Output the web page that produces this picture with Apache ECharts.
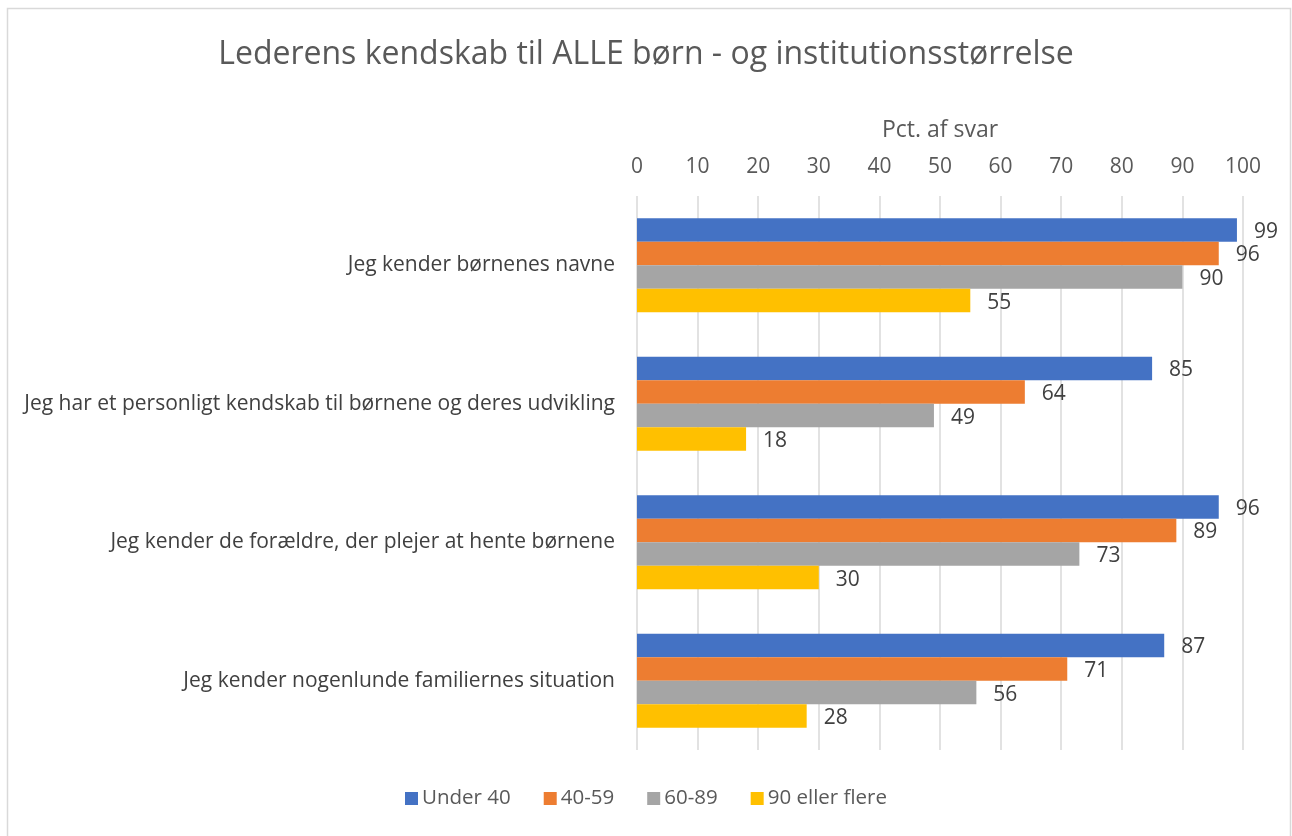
<!DOCTYPE html>
<html>
<head>
<meta charset="utf-8">
<script src="https://cdn.jsdelivr.net/npm/echarts@6/dist/echarts.min.js"></script>
<style>
  html, body { margin: 0; padding: 0; background: #fff; }
  #chart { width: 1292px; height: 836px; }
</style>
</head>
<body>
<div id="chart"></div>
<script>
// kategorier (oppefra og ned)
const categories = [
  'Jeg kender børnenes navne',
  'Jeg har et personligt kendskab til børnene og deres udvikling',
  'Jeg kender de forældre, der plejer at hente børnene',
  'Jeg kender nogenlunde familiernes situation'
]
const seriesNames = ['Under 40', '40-59', '60-89', '90 eller flere']
const under40 = [99, 85, 96, 87]
const s40to59 = [96, 64, 89, 71]
const s60to89 = [90, 49, 73, 56]
const s90plus = [55, 18, 30, 28]
const colors = ['#4472C4', '#ED7D31', '#A5A5A5', '#FFC000']

const font = 'Open Sans'
const chart = echarts.init(document.getElementById('chart'))

const values = [under40, s40to59, s60to89, s90plus]

const option = {
  animation: false,
  color: colors,
  textStyle: { fontFamily: font },
  title: {
    text: 'Lederens kendskab til ALLE børn - og institutionsstørrelse',
    left: 'center',
    top: 34,
    textStyle: { fontFamily: font, fontSize: 32, fontWeight: 'normal', color: '#595959' }
  },
  graphic: [{
    type: 'rect',
    shape: { x: 7.5, y: 8.5, width: 1283, height: 840 },
    style: { fill: 'none', stroke: '#d9d9d9', lineWidth: 1.5 },
    silent: true
  }],
  legend: {
    bottom: 22,
    left: 'center',
    itemWidth: 13,
    itemHeight: 13,
    itemGap: 33,
    icon: 'rect',
    textStyle: { fontFamily: font, fontSize: 20.5, color: '#595959', padding: [0, 0, 0, -1] },
    data: seriesNames
  },
  grid: { left: 637, right: 49, top: 196, bottom: 86 },
  xAxis: {
    type: 'value',
    position: 'top',
    min: 0,
    max: 100,
    interval: 10,
    name: 'Pct. af svar',
    nameLocation: 'middle',
    nameGap: 54,
    nameTextStyle: { fontFamily: font, fontSize: 23, color: '#595959' },
    axisLine: { show: false },
    axisTick: { show: false },
    axisLabel: { fontFamily: font, fontSize: 21, color: '#595959', margin: 18 },
    splitLine: { lineStyle: { color: '#d9d9d9', width: 1.5 } }
  },
  yAxis: {
    type: 'category',
    inverse: true,
    data: categories,
    axisLine: { show: false },
    axisTick: { show: false },
    axisLabel: { fontFamily: font, fontSize: 21, color: '#404040', margin: 22 }
  },
  series: seriesNames.map((name, i) => ({
    name: name,
    type: 'bar',
    data: values[i],
    barGap: '0%',
    barCategoryGap: '32%',
    label: {
      show: true,
      position: 'right',
      distance: 17,
      fontFamily: font,
      fontSize: 21,
      color: '#404040',
      offset: [0, 2]
    }
  }))
}

chart.setOption(option)
</script>
</body>
</html>
